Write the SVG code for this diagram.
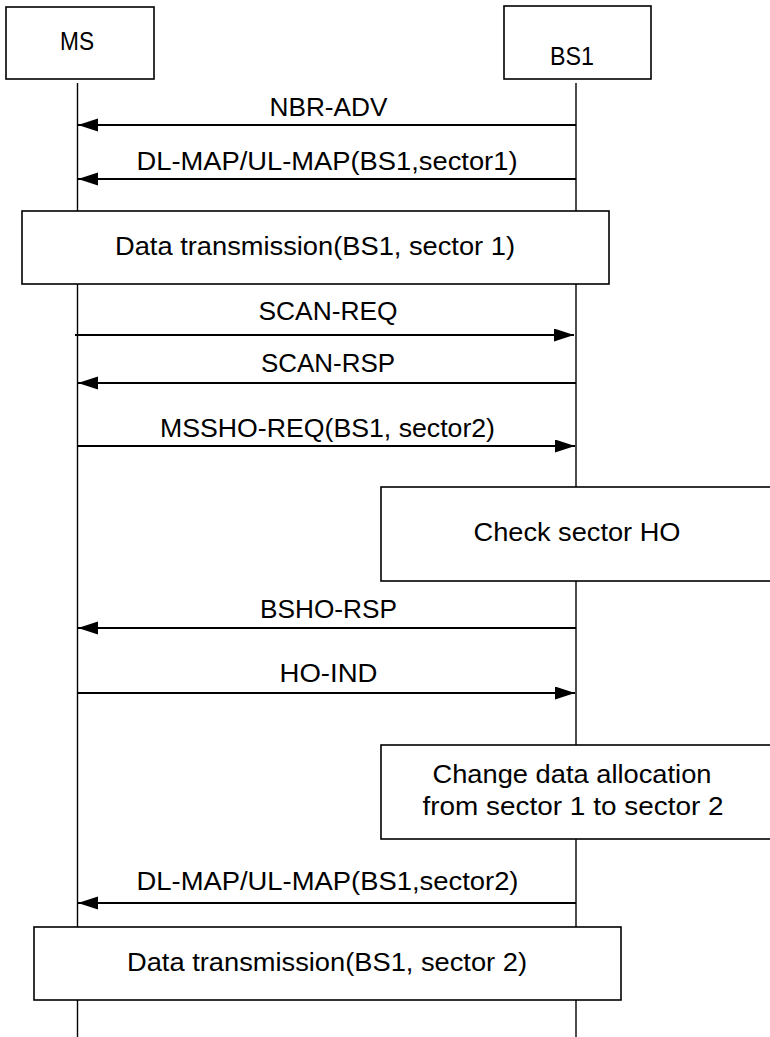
<svg xmlns="http://www.w3.org/2000/svg" width="770" height="1037" viewBox="0 0 770 1037">
<style>
.box{fill:#fff;stroke:#000;stroke-width:1.6}
.life{stroke:#000;stroke-width:1.4;fill:none}
.msg{stroke:#000;stroke-width:2;fill:none;marker-end:url(#ah)}
text{font-family:"Liberation Sans",Arial,sans-serif;font-size:25px;fill:#000;text-anchor:middle}
</style>
<defs>
<marker id="ah" markerUnits="userSpaceOnUse" markerWidth="21" markerHeight="14" refX="20" refY="6.5" orient="auto">
<path d="M0,0 L20,6.5 L0,13 Z" fill="#000"/>
</marker>
</defs>
<rect width="770" height="1037" fill="#fff"/>
<g id="lifelines">
<line class="life" x1="77.5" y1="83" x2="77.5" y2="1037"/>
<line class="life" x1="576" y1="83" x2="576" y2="1037"/>
</g>
<g id="node-ms">
<rect class="box" x="6" y="7" width="148" height="72"/>
<text x="77" y="50" textLength="34" lengthAdjust="spacingAndGlyphs">MS</text>
</g>
<g id="node-bs1">
<rect class="box" x="504" y="6" width="147" height="73"/>
<text x="572" y="65" textLength="44" lengthAdjust="spacingAndGlyphs">BS1</text>
</g>
<g id="node-data1">
<rect class="box" x="22" y="211" width="587" height="73"/>
<text x="315" y="255" textLength="400" lengthAdjust="spacingAndGlyphs">Data transmission(BS1, sector 1)</text>
</g>
<g id="node-check">
<rect class="box" x="381" y="487" width="400" height="94"/>
<text x="577" y="541" textLength="207" lengthAdjust="spacingAndGlyphs">Check sector HO</text>
</g>
<g id="node-change">
<rect class="box" x="381" y="745" width="400" height="94"/>
<text x="572" y="783" textLength="279" lengthAdjust="spacingAndGlyphs">Change data allocation</text>
<text x="573" y="815" textLength="301" lengthAdjust="spacingAndGlyphs">from sector 1 to sector 2</text>
</g>
<g id="node-data2">
<rect class="box" x="34" y="927" width="587" height="73"/>
<text x="327" y="971" textLength="400" lengthAdjust="spacingAndGlyphs">Data transmission(BS1, sector 2)</text>
</g>
<g id="connectors">
<line class="msg" x1="576" y1="125" x2="78" y2="125"/>
<text x="328.5" y="116" textLength="118" lengthAdjust="spacingAndGlyphs">NBR-ADV</text>
<line class="msg" x1="576" y1="179" x2="78" y2="179"/>
<text x="327" y="170" textLength="381" lengthAdjust="spacingAndGlyphs">DL-MAP/UL-MAP(BS1,sector1)</text>
<line class="msg" x1="75" y1="335" x2="574" y2="335"/>
<text x="328" y="320" textLength="139" lengthAdjust="spacingAndGlyphs">SCAN-REQ</text>
<line class="msg" x1="576" y1="383" x2="78" y2="383"/>
<text x="328" y="372" textLength="134" lengthAdjust="spacingAndGlyphs">SCAN-RSP</text>
<line class="msg" x1="77.5" y1="446" x2="575" y2="446"/>
<text x="327.5" y="437" textLength="335" lengthAdjust="spacingAndGlyphs">MSSHO-REQ(BS1, sector2)</text>
<line class="msg" x1="576" y1="628" x2="78" y2="628"/>
<text x="328.5" y="618" textLength="137" lengthAdjust="spacingAndGlyphs">BSHO-RSP</text>
<line class="msg" x1="77.5" y1="693" x2="575" y2="693"/>
<text x="328.5" y="682" textLength="98" lengthAdjust="spacingAndGlyphs">HO-IND</text>
<line class="msg" x1="576" y1="903" x2="78" y2="903"/>
<text x="327.5" y="890" textLength="382" lengthAdjust="spacingAndGlyphs">DL-MAP/UL-MAP(BS1,sector2)</text>
</g>
</svg>
